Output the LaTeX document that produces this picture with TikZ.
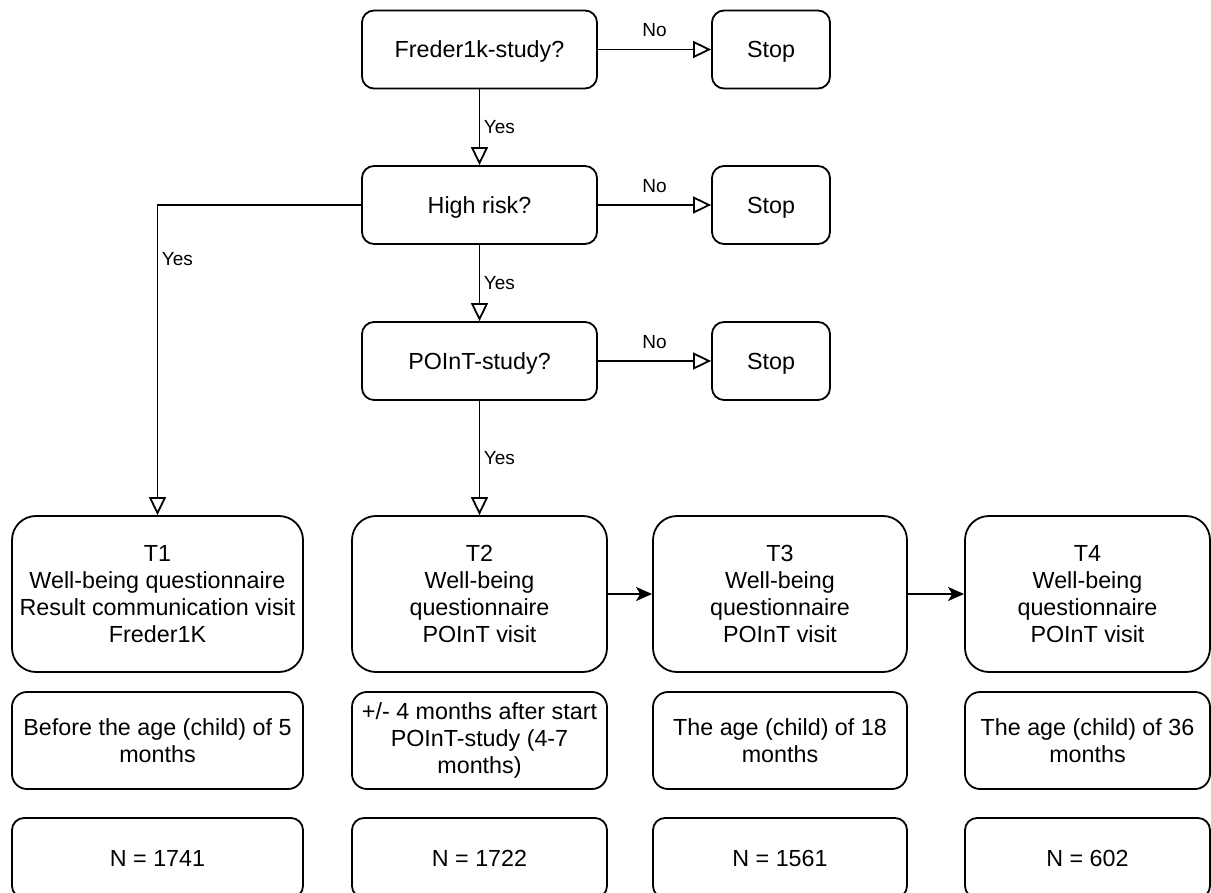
\documentclass[tikz,border=0pt]{standalone}
\usepackage{fontspec}
\setmainfont{Liberation Sans}
\usetikzlibrary{arrows.meta}
\begin{document}
\begin{tikzpicture}[x=1pt,y=-1pt,line width=1.8pt,
  box/.style={draw, inner sep=0pt, align=center, font=\fontsize{23.3}{27}\selectfont},
  oneline/.style={text height=16.7pt, text depth=0pt},
  qbox/.style={box, oneline, rounded corners=12pt, minimum width=235pt, minimum height=78pt},
  stopbox/.style={box, oneline, rounded corners=12pt, minimum width=118pt, minimum height=78pt},
  tbox/.style={box, rounded corners=24pt, minimum height=156pt},
  agebox/.style={box, rounded corners=15pt, minimum height=97pt},
  nbox/.style={box, oneline, rounded corners=12pt, minimum height=80pt},
  openarrow/.style={-{Triangle[open, length=18pt, width=17pt]}},
  fillarrow/.style={-{Stealth[length=16pt, width=14pt, inset=4pt]}},
  lbl/.style={font=\fontsize{19}{21}\selectfont, inner sep=0pt},
  nolbl/.style={lbl, midway, yshift=19pt},
  yeslbl/.style={lbl, anchor=west, xshift=3.5pt}
]
\useasboundingbox (0,0) rectangle (1211,893);

% decision boxes
\node[qbox] (f) at (479.5,49.5) {Freder1k-study?};
\node[qbox] (hr) at (479.5,205) {High risk?};
\node[qbox] (p) at (479.5,361) {POInT-study?};
\node[stopbox] (s1) at (771,49.5) {Stop};
\node[stopbox] (s2) at (771,205) {Stop};
\node[stopbox] (s3) at (771,361) {Stop};

% time point boxes
\node[tbox, minimum width=291pt] (t1) at (157.5,594) {T1\\Well-being questionnaire\\Result communication visit\\Freder1K};
\node[tbox, minimum width=255pt] (t2) at (479.5,594) {T2\\Well-being\\questionnaire\\POInT visit};
\node[tbox, minimum width=254pt] (t3) at (780,594) {T3\\Well-being\\questionnaire\\POInT visit};
\node[tbox, minimum width=245pt] (t4) at (1087.5,594) {T4\\Well-being\\questionnaire\\POInT visit};

% age boxes
\node[agebox, minimum width=291pt] (a1) at (157.5,740.5) {Before the age (child) of 5\\months};
\node[agebox, minimum width=255pt] (a2) at (479.5,740.5) {+/- 4 months after start\\POInT-study (4-7\\months)};
\node[agebox, minimum width=254pt] (a3) at (780,740.5) {The age (child) of 18\\months};
\node[agebox, minimum width=245pt] (a4) at (1087.5,740.5) {The age (child) of 36\\months};

% N boxes
\node[nbox, minimum width=291pt] (n1) at (157.5,858) {N = 1741};
\node[nbox, minimum width=255pt] (n2) at (479.5,858) {N = 1722};
\node[nbox, minimum width=254pt] (n3) at (780,858) {N = 1561};
\node[nbox, minimum width=245pt] (n4) at (1087.5,858) {N = 602};

% connectors
\draw[openarrow] (f) -- node[nolbl] {No} (s1);
\draw[openarrow] (hr) -- node[nolbl] {No} (s2);
\draw[openarrow] (p) -- node[nolbl] {No} (s3);
\draw[openarrow] (f) -- node[yeslbl, midway] {Yes} (hr);
\draw[openarrow] (hr) -- node[yeslbl, midway] {Yes} (p);
\draw[openarrow] (p) -- node[yeslbl, midway] {Yes} (t2);
\draw[openarrow] (hr.west) -| node[yeslbl, pos=0.587] {Yes} (t1.north);
\draw[fillarrow] (t2) -- (t3);
\draw[fillarrow] (t3) -- (t4);
\end{tikzpicture}
\end{document}
